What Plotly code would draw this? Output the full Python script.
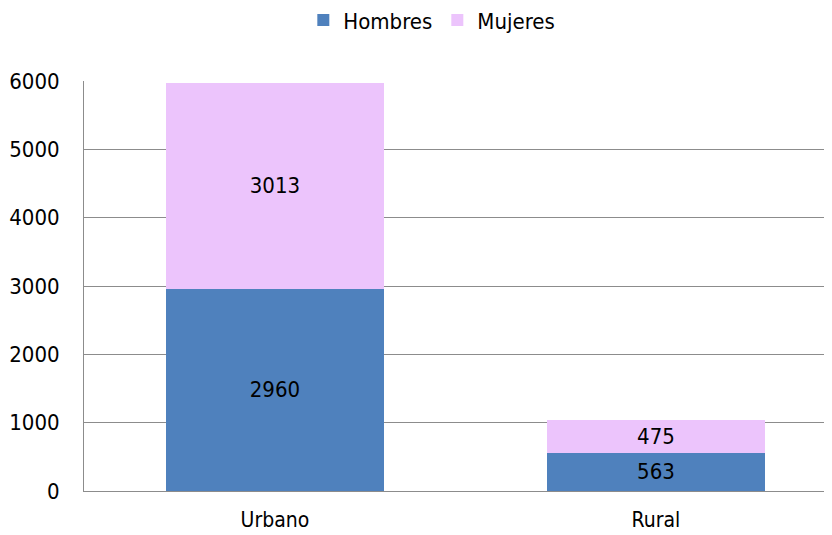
import plotly.graph_objects as go

categories = ["Urbano", "Rural"]
hombres = [2960, 563]
mujeres = [3013, 475]
y_ticks = [0, 1000, 2000, 3000, 4000, 5000, 6000]

FONT = "DejaVu Sans Condensed, Liberation Sans Narrow, Arial Narrow, sans-serif"
FS = 22

fig = go.Figure()
fig.add_trace(go.Bar(
    name="Hombres", x=categories, y=hombres,
    marker=dict(color="#4F81BD", line=dict(width=0)),
    text=[str(v) for v in hombres], textposition="inside",
    insidetextanchor="middle", textangle=0,
    textfont=dict(color="black", size=FS, family=FONT),
    width=0.572,
))
fig.add_trace(go.Bar(
    name="Mujeres", x=categories, y=mujeres,
    marker=dict(color="#ECC4FC", line=dict(width=0)),
    text=[str(v) for v in mujeres], textposition="inside",
    insidetextanchor="middle", textangle=0,
    textfont=dict(color="black", size=FS, family=FONT),
    width=0.572,
))

fig.update_layout(
    barmode="stack",
    width=824, height=527,
    margin=dict(l=76, r=0, t=73, b=44, autoexpand=False),
    paper_bgcolor="white", plot_bgcolor="white",
    font=dict(family=FONT, size=FS, color="black"),
    uniformtext=dict(minsize=FS, mode="show"),
    showlegend=True,
    legend=dict(orientation="h", x=0.465, xanchor="center", y=1.148, yanchor="middle",
                font=dict(size=FS, family=FONT), traceorder="normal",
                itemwidth=30),
    xaxis=dict(range=[-0.501, 1.462], showline=True, linecolor="#8C8C8C", linewidth=1,
               ticks="", showgrid=False, tickfont=dict(size=21), ticklabelstandoff=10,
               automargin=False),
    yaxis=dict(range=[0, 6000], tickvals=y_ticks, showline=True, linecolor="#8C8C8C",
               linewidth=1, gridcolor="#8C8C8C", gridwidth=1, ticks="",
               ticklabelstandoff=19, tickfont=dict(size=FS), zeroline=False,
               automargin=False),
)

fig.write_html("out.html")
